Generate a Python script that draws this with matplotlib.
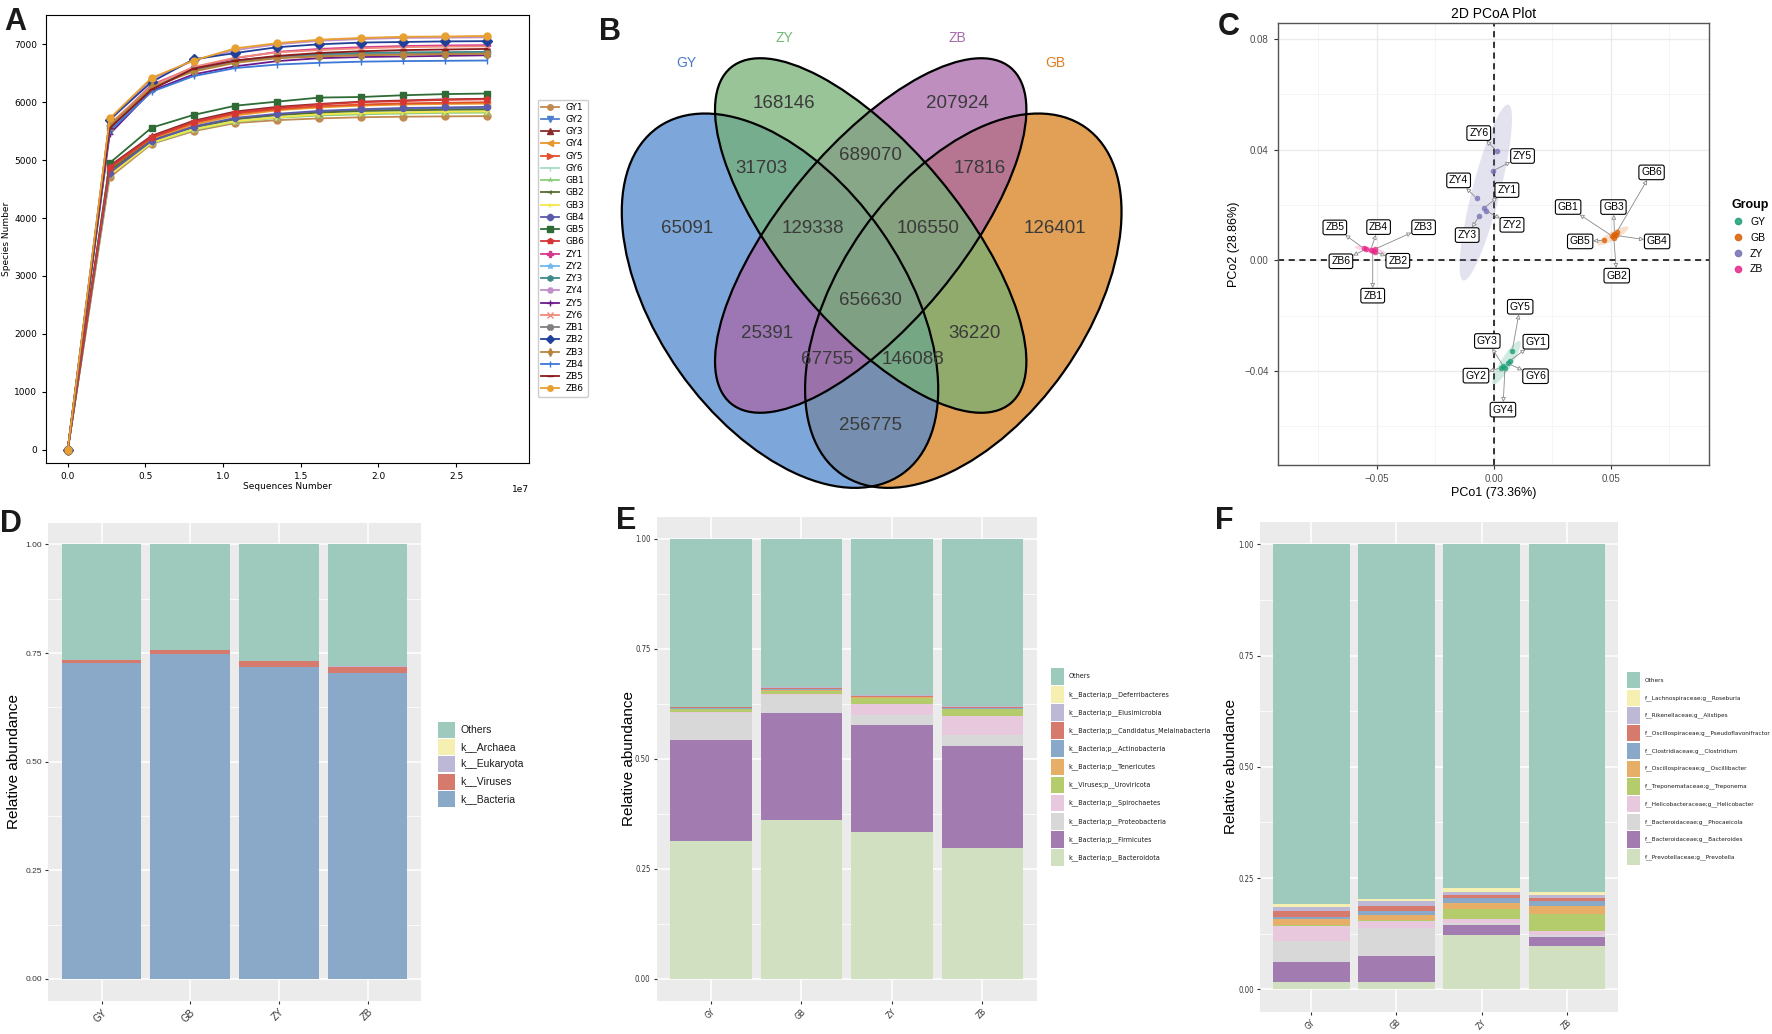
import os
import numpy as np
import matplotlib
matplotlib.use('Agg')
import matplotlib.pyplot as plt
from matplotlib.patches import Ellipse, Rectangle
from matplotlib.lines import Line2D
from matplotlib.ticker import FuncFormatter
from matplotlib.font_manager import FontProperties
from matplotlib import font_manager

# ---------------- data ----------------
# A: rarefaction curves
seq_depth = np.arange(11) * 2.7e6
samples = ['GY1', 'GY2', 'GY3', 'GY4', 'GY5', 'GY6',
           'GB1', 'GB2', 'GB3', 'GB4', 'GB5', 'GB6',
           'ZY1', 'ZY2', 'ZY3', 'ZY4', 'ZY5', 'ZY6',
           'ZB1', 'ZB2', 'ZB3', 'ZB4', 'ZB5', 'ZB6']
gy1 = [0, 4700, 5280, 5500, 5640, 5690, 5720, 5740, 5750, 5755, 5760]
gy2 = [0, 4760, 5320, 5560, 5700, 5780, 5830, 5860, 5880, 5890, 5895]
gy3 = [0, 4900, 5420, 5680, 5840, 5920, 5970, 6010, 6030, 6050, 6060]
gy4 = [0, 4800, 5350, 5610, 5770, 5860, 5910, 5940, 5960, 5970, 5975]
gy5 = [0, 4850, 5380, 5640, 5800, 5880, 5930, 5960, 5980, 5990, 6000]
gy6 = [0, 4770, 5310, 5540, 5680, 5750, 5800, 5830, 5845, 5850, 5855]
gb1 = [0, 4750, 5290, 5520, 5660, 5730, 5770, 5790, 5805, 5815, 5820]
gb2 = [0, 4820, 5340, 5570, 5710, 5780, 5820, 5850, 5860, 5870, 5875]
gb3 = [0, 4740, 5300, 5530, 5670, 5740, 5790, 5810, 5825, 5835, 5840]
gb4 = [0, 4780, 5330, 5580, 5730, 5800, 5850, 5880, 5900, 5910, 5920]
gb5 = [0, 4950, 5560, 5780, 5940, 6010, 6080, 6090, 6120, 6140, 6150]
gb6 = [0, 4880, 5400, 5660, 5820, 5900, 5960, 6000, 6020, 6040, 6050]
zy1 = [0, 5600, 6300, 6600, 6760, 6870, 6920, 6950, 6970, 6980, 6985]
zy2 = [0, 5520, 6230, 6560, 6700, 6770, 6810, 6830, 6840, 6845, 6850]
zy3 = [0, 5580, 6250, 6570, 6720, 6790, 6830, 6850, 6860, 6865, 6870]
zy4 = [0, 5680, 6400, 6720, 6900, 7000, 7060, 7090, 7110, 7115, 7120]
zy5 = [0, 5450, 6200, 6480, 6620, 6710, 6760, 6780, 6790, 6800, 6810]
zy6 = [0, 5620, 6280, 6610, 6770, 6860, 6900, 6930, 6950, 6960, 6965]
zb1 = [0, 5560, 6240, 6550, 6700, 6770, 6800, 6820, 6830, 6835, 6840]
zb2 = [0, 5700, 6350, 6740, 6850, 6950, 7000, 7030, 7040, 7050, 7055]
zb3 = [0, 5600, 6260, 6530, 6680, 6760, 6790, 6810, 6820, 6830, 6835]
zb4 = [0, 5500, 6180, 6450, 6590, 6650, 6680, 6700, 6710, 6715, 6720]
zb5 = [0, 5550, 6220, 6580, 6720, 6800, 6850, 6880, 6900, 6910, 6920]
zb6 = [0, 5720, 6420, 6720, 6930, 7020, 7080, 7110, 7130, 7135, 7145]
richness = [gy1, gy2, gy3, gy4, gy5, gy6, gb1, gb2, gb3, gb4, gb5, gb6,
            zy1, zy2, zy3, zy4, zy5, zy6, zb1, zb2, zb3, zb4, zb5, zb6]

# B: Venn
venn_sets = ['GY', 'ZY', 'ZB', 'GB']
venn_counts = [65091, 168146, 207924, 126401, 31703, 689070, 17816,
               129338, 106550, 656630, 25391, 36220, 67755, 146088, 256775]

# C: PCoA
pco1 = [0.0068, 0.0030, 0.0040, 0.0047, 0.0078, 0.0058,
        0.0505, 0.0512, 0.0515, 0.0522, 0.0471, 0.0524,
        -0.0043, -0.0034, -0.0063, -0.0074, -0.0006, 0.0012,
        -0.0518, -0.0509, -0.0510, -0.0527, -0.0556, -0.0547]
pco2 = [-0.0363, -0.0388, -0.0382, -0.0388, -0.0327, -0.0372,
        0.0088, 0.0082, 0.0095, 0.0090, 0.0072, 0.0101,
        0.0189, 0.0179, 0.0160, 0.0224, 0.0323, 0.0395,
        0.0035, 0.0031, 0.0040, 0.0037, 0.0043, 0.0040]
groups = ['GY', 'GB', 'ZY', 'ZB']

# D: kingdom
bar_groups = ['GY', 'GB', 'ZY', 'ZB']
kingdom_taxa = ['Others', 'k__Archaea', 'k__Eukaryota', 'k__Viruses', 'k__Bacteria']
k_archaea = [0.0005, 0.0005, 0.0005, 0.0005]
k_eukaryota = [0.0005, 0.0005, 0.0005, 0.0005]
k_viruses = [0.007, 0.010, 0.012, 0.014]
k_bacteria = [0.727, 0.747, 0.719, 0.705]

# E: phylum
phylum_taxa = ['Others', 'k__Bacteria;p__Deferribacteres', 'k__Bacteria;p__Elusimicrobia',
               'k__Bacteria;p__Candidatus_Melainabacteria', 'k__Bacteria;p__Actinobacteria',
               'k__Bacteria;p__Tenericutes', 'k__Viruses;p__Uroviricota',
               'k__Bacteria;p__Spirochaetes', 'k__Bacteria;p__Proteobacteria',
               'k__Bacteria;p__Firmicutes', 'k__Bacteria;p__Bacteroidota']
p_deferribacteres = [0.0005, 0.001, 0.0005, 0.001]
p_elusimicrobia = [0.001, 0.002, 0.002, 0.002]
p_candidatus = [0.002, 0.002, 0.001, 0.002]
p_actinobacteria = [0.001, 0.001, 0.001, 0.001]
p_tenericutes = [0.002, 0.003, 0.002, 0.002]
p_uroviricota = [0.006, 0.008, 0.013, 0.014]
p_spirochaetes = [0.002, 0.002, 0.025, 0.044]
p_proteobacteria = [0.062, 0.040, 0.024, 0.024]
p_firmicutes = [0.228, 0.244, 0.242, 0.234]
p_bacteroidota = [0.314, 0.360, 0.334, 0.296]

# F: genus
genus_taxa = ['Others', 'f__Lachnospiraceae;g__Roseburia', 'f__Rikenellaceae;g__Alistipes',
              'f__Oscillospiraceae;g__Pseudoflavonifractor', 'f__Clostridiaceae;g__Clostridium',
              'f__Oscillospiraceae;g__Oscillibacter', 'f__Treponemataceae;g__Treponema',
              'f__Helicobacteraceae;g__Helicobacter', 'f__Bacteroidaceae;g__Phocaeicola',
              'f__Bacteroidaceae;g__Bacteroides', 'f__Prevotellaceae;g__Prevotella']
g_roseburia = [0.006, 0.004, 0.008, 0.006]
g_alistipes = [0.009, 0.011, 0.007, 0.007]
g_pseudoflavonifractor = [0.014, 0.010, 0.007, 0.007]
g_clostridium = [0.005, 0.011, 0.010, 0.012]
g_oscillibacter = [0.013, 0.010, 0.015, 0.018]
g_treponema = [0.002, 0.002, 0.023, 0.038]
g_helicobacter = [0.034, 0.016, 0.007, 0.010]
g_phocaeicola = [0.046, 0.062, 0.006, 0.003]
g_bacteroides = [0.045, 0.059, 0.021, 0.020]
g_prevotella = [0.017, 0.017, 0.123, 0.098]

# ---------------- figure ----------------
W, H = 1772, 1034
fig = plt.figure(figsize=(W / 100, H / 100), dpi=100)

ARIAL = 'Liberation Sans'


def find_narrow():
    best = None
    for f in font_manager.fontManager.ttflist:
        nm = (f.name + ' ' + os.path.basename(f.fname)).lower()
        if any(k in nm for k in ('bold', 'italic', 'oblique', 'light', 'thin', 'black', 'medium')):
            continue
        if 'liberation sans narrow' in nm or 'liberationsansnarrow' in nm:
            return f.fname
        if best is None and ('narrow' in nm or 'condensed' in nm):
            best = f.fname
    return best


narrow_path = find_narrow()


def narrow_fp(size):
    if narrow_path:
        return FontProperties(fname=narrow_path, size=size)
    return FontProperties(family=ARIAL, size=size * 0.85)


def px_axes(l, t, r, b):
    return fig.add_axes([l / W, 1 - b / H, (r - l) / W, (b - t) / H])


# ---- A ----
a_colors = ['#c08a50', '#4f7fcf', '#8b2a2a', '#e8952a', '#e0502a', '#a8dcc4',
            '#8ccc7c', '#556b2f', '#f2e84a', '#5b5bab', '#2f6b35', '#d43535',
            '#d6388e', '#6fb8ee', '#3d8a88', '#c08ec8', '#6a1a8a', '#f08a7a',
            '#808080', '#21409a', '#b8843c', '#3b78d8', '#8b1a1a', '#e8a030']
a_markers = ['o', 'v', '^', '<', '>', '1', '2', '3', '4', '8', 's', 'p',
             'P', '*', 'h', 'H', '+', 'x', 'X', 'D', 'd', '|', '_', 'o']
axA = px_axes(46, 15, 529, 463)
for name, vals, col, mk in zip(samples, richness, a_colors, a_markers):
    axA.plot(seq_depth, vals, color=col, marker=mk, markersize=5, lw=1.3, label=name)
axA.set_xlim(-0.14e7, 2.97e7)
axA.set_ylim(-231, 7506)
axA.set_xticks([0, 0.5e7, 1.0e7, 1.5e7, 2.0e7, 2.5e7])
axA.set_yticks(range(0, 7001, 1000))
axA.tick_params(labelsize=6.5, length=3)
axA.xaxis.get_offset_text().set_fontsize(6.5)
axA.set_xlabel('Sequences Number', fontsize=6.5, labelpad=1)
axA.set_ylabel('Species Number', fontsize=6.5, labelpad=2)
axA.legend(loc='upper left', bbox_to_anchor=(533 / W, 1 - 95 / H), bbox_transform=fig.transFigure,
           fontsize=6.5, labelspacing=0.36, handlelength=2.0, borderpad=0.35,
           markerscale=0.8, framealpha=1, edgecolor='#cccccc')

# ---- B ----
axB = px_axes(620, 0, 1210, 500)
axB.set_xlim(620, 1210)
axB.set_ylim(500, 0)
axB.axis('off')
# ellipse geometry (layout): centre x, centre y, width, height, angle
venn_shapes = {'GB': (963.3, 300.7, 424, 246, -54.8), 'GY': (780.0, 300.7, 424, 246, 54.8),
               'ZB': (870.7, 235.5, 437, 178, -50.2), 'ZY': (870.7, 235.5, 437, 178, 50.2)}
venn_fill = {'GY': '#528ACF', 'ZY': '#76B076', 'ZB': '#A868A8', 'GB': '#D8801C'}
for s in ['GB', 'GY', 'ZB', 'ZY']:
    cx, cy, w, h, ang = venn_shapes[s]
    axB.add_patch(Ellipse((cx, cy), w, h, angle=ang, fc=venn_fill[s], ec='none', alpha=0.75))
for s in venn_sets:
    cx, cy, w, h, ang = venn_shapes[s]
    axB.add_patch(Ellipse((cx, cy), w, h, angle=ang, fill=False, ec='black', lw=1.6))
set_label_pos = [(686.7, 63.3), (784.3, 38.3), (957.3, 38.3), (1055.0, 63.3)]
set_label_col = ['#4a78c8', '#72b872', '#a86aae', '#e07b20']
for s, (x, y), c in zip(venn_sets, set_label_pos, set_label_col):
    axB.text(x, y, s, color=c, fontsize=10, ha='center', va='center', family=ARIAL)
region_pos = [(686.7, 228.3), (784.3, 103.3), (957.3, 103.3), (1055.0, 228.3),
              (761.7, 168.3), (870.7, 156.0), (980.0, 168.3), (813.3, 228.3),
              (928.3, 228.3), (870.7, 300.7), (767.3, 333.3), (974.3, 333.3),
              (827.3, 360.0), (913.3, 360.0), (870.7, 426.0)]
for n, (x, y) in zip(venn_counts, region_pos):
    axB.text(x, y, str(n), fontsize=13.5, color='#3a3a3a', ha='center', va='center', family=ARIAL)

# ---- C ----
grp_colors = {'GY': '#1B9E77', 'GB': '#D95F02', 'ZY': '#7570B3', 'ZB': '#E7298A'}
axC = px_axes(1277.7, 23.3, 1709, 465)
axC.set_xlim(-0.0924, 0.0919)
axC.set_ylim(-0.074, 0.0857)
axC.set_xticks([-0.05, 0, 0.05])
axC.set_yticks([-0.04, 0, 0.04, 0.08])
axC.set_xticks([-0.075, -0.025, 0.025, 0.075], minor=True)
axC.set_yticks([-0.06, -0.02, 0.02, 0.06], minor=True)
fmt = FuncFormatter(lambda v, p: ('%.2f' % v).replace('-', '\u2212'))
axC.xaxis.set_major_formatter(fmt)
axC.yaxis.set_major_formatter(fmt)
axC.grid(which='major', color='#EBEBEB', lw=1.0)
axC.grid(which='minor', color='#F4F4F4', lw=0.6)
axC.set_axisbelow(True)
axC.tick_params(which='major', length=3, color='#333333', labelsize=7, labelcolor='#4D4D4D')
axC.tick_params(which='minor', length=0)
for sp in axC.spines.values():
    sp.set_color('#555555')
    sp.set_linewidth(1.0)
for lab in axC.get_xticklabels() + axC.get_yticklabels():
    lab.set_family(ARIAL)
axC.axhline(0, color='black', ls=(0, (4, 3)), lw=1.1, zorder=1.5)
axC.axvline(0, color='black', ls=(0, (4, 3)), lw=1.1, zorder=1.5)
axC.set_title('2D PCoA Plot', fontsize=10, family=ARIAL, pad=4)
axC.set_xlabel('PCo1 (73.36%)', fontsize=9, family=ARIAL, labelpad=2)
axC.set_ylabel('PCo2 (28.86%)', fontsize=9, family=ARIAL, labelpad=3)


def conf_ellipse(x, y, level=0.95, n_pts=120):
    pts = np.column_stack([x, y])
    n = len(x)
    c = pts.mean(0)
    cov = np.cov(pts.T)
    fq = (n - 1) / 2 * ((1 - level) ** (-2 / (n - 1)) - 1)
    r = np.sqrt(2 * fq)
    vals, vecs = np.linalg.eigh(cov)
    t = np.linspace(0, 2 * np.pi, n_pts)
    circ = np.column_stack([np.cos(t), np.sin(t)])
    return c + r * circ @ (vecs * np.sqrt(np.clip(vals, 0, None))).T


pco1 = np.array(pco1)
pco2 = np.array(pco2)
sample_group = [s[:2] for s in samples]
for g in groups:
    idx = [i for i, sg in enumerate(sample_group) if sg == g]
    e = conf_ellipse(pco1[idx], pco2[idx])
    axC.fill(e[:, 0], e[:, 1], color=grp_colors[g], alpha=0.2, lw=0, zorder=2)
    axC.scatter(pco1[idx], pco2[idx], s=16, color=grp_colors[g], alpha=0.8, lw=0, zorder=3)

# repel-style label offsets (pixels)
label_off = [(26, 19), (-25, -8), (-16, 25), (-2, -42), (8, 44), (28, -13),
             (-44, 29), (3, -38), (-1, 27), (41, -6), (-24, -1), (35, 60),
             (23, 18), (26, -14), (-12, -19), (-18, 18), (30, 15), (-18, 18),
             (0, -45), (23, -9), (49, 22), (8, 23), (-29, 21), (-25, -12)]
for s, x, y, off in zip(samples, pco1, pco2, label_off):
    axC.annotate(s, (x, y), xytext=off, textcoords='offset pixels', ha='center', va='center',
                 fontsize=7.5, family=ARIAL, zorder=5,
                 bbox=dict(boxstyle='round,pad=0.22,rounding_size=0.2', fc='white', ec='black', lw=0.8),
                 arrowprops=dict(arrowstyle='<|-,head_length=0.35,head_width=0.18', color='#888888',
                                 fc='white', lw=0.6, shrinkA=0, shrinkB=2))
grp_handles = [Line2D([], [], ls='none', marker='o', markersize=4.5, color=grp_colors[g], alpha=0.85)
               for g in groups]
fig.legend(grp_handles, groups, title='Group', loc='upper left', bbox_to_anchor=(1722 / W, 1 - 190 / H),
           frameon=False, prop={'family': ARIAL, 'size': 7.5}, alignment='left',
           title_fontproperties={'family': ARIAL, 'size': 9, 'weight': 'bold'},
           handletextpad=0.6, labelspacing=0.55, handlelength=1.2)

# ---- D, E, F ----
col11 = ['#9ECABE', '#F5F0B2', '#BDB8D6', '#D67A6E', '#8AA9C8', '#E6AE66',
         '#B5CC6C', '#E8C8DC', '#D8D8D8', '#A27CB0', '#D0E0C0']
col5 = ['#9ECABE', '#F5F0B2', '#BDB8D6', '#D67A6E', '#8AA9C8']
renderer = fig.canvas.get_renderer()


def box_legend(x0, y0, step, kw, kh, labels, colors, fp, max_w=None):
    texts = []
    for i, (lab, c) in enumerate(zip(labels, colors)):
        top = y0 + i * step
        fig.add_artist(Rectangle((x0 / W, 1 - (top + kh) / H), kw / W, kh / H,
                                 transform=fig.transFigure, fc=c, ec='none'))
        texts.append(fig.text((x0 + kw + 5) / W, 1 - (top + kh / 2) / H, lab, fontproperties=fp,
                              ha='left', va='center', color='#1a1a1a'))
    if max_w:
        widest = max(t.get_window_extent(renderer).width for t in texts)
        if widest > max_w:
            for t in texts:
                t.set_fontsize(fp.get_size_in_points() * max_w / widest)


def stacked(rect, rows, colors, tick_fp_x, tick_fp_y, ylabel_x):
    ax = px_axes(*rect)
    others = 1 - np.sum(rows, axis=0)
    table = [others] + [np.array(r) for r in rows]
    xpos = np.arange(1, len(bar_groups) + 1)
    bottom = np.zeros(len(bar_groups))
    for vals, col in zip(reversed(table), reversed(colors)):
        ax.bar(xpos, vals, 0.9, bottom=bottom, color=col, lw=0, zorder=2)
        bottom += vals
    ax.set_facecolor('#EBEBEB')
    for sp in ax.spines.values():
        sp.set_visible(False)
    ax.set_xlim(0.4, len(bar_groups) + 0.6)
    ax.set_ylim(-0.05, 1.05)
    ax.set_xticks(xpos)
    ax.set_xticklabels(bar_groups, rotation=45, ha='right', va='top', rotation_mode='anchor')
    ax.set_yticks([0, 0.25, 0.5, 0.75, 1.0])
    ax.set_yticklabels(['0.00', '0.25', '0.50', '0.75', '1.00'])
    ax.set_yticks([0.125, 0.375, 0.625, 0.875], minor=True)
    ax.grid(which='major', color='white', lw=1.1, zorder=0)
    ax.grid(which='minor', axis='y', color='white', lw=0.55, zorder=0)
    ax.set_axisbelow(True)
    ax.tick_params(which='major', length=2.5, color='#333333', labelcolor='#333333', pad=2)
    ax.tick_params(which='minor', length=0)
    for lab in ax.get_xticklabels():
        lab.set_fontproperties(tick_fp_x)
    for lab in ax.get_yticklabels():
        lab.set_fontproperties(tick_fp_y)
    fig.text(ylabel_x / W, 1 - ((rect[1] + rect[3]) / 2) / H, 'Relative abundance', rotation=90,
             ha='center', va='center', fontsize=11, family=ARIAL)
    return ax


stacked((48.3, 522.7, 420.7, 1000.7),
        [k_archaea, k_eukaryota, k_viruses, k_bacteria], col5,
        FontProperties(family=ARIAL, size=7), FontProperties(family=ARIAL, size=6), 14)
box_legend(438, 722, 17.2, 17, 16, kingdom_taxa, col5, FontProperties(family=ARIAL, size=7.5))

stacked((656.7, 516.7, 1036.7, 1000.7),
        [p_deferribacteres, p_elusimicrobia, p_candidatus, p_actinobacteria, p_tenericutes,
         p_uroviricota, p_spirochaetes, p_proteobacteria, p_firmicutes, p_bacteroidota], col11,
        narrow_fp(6), narrow_fp(5.6), 629)
box_legend(1051, 668, 18.1, 12.5, 16.7, phylum_taxa, col11, narrow_fp(6.0), max_w=140)

stacked((1260, 522, 1618, 1011.6),
        [g_roseburia, g_alistipes, g_pseudoflavonifractor, g_clostridium, g_oscillibacter,
         g_treponema, g_helicobacter, g_phocaeicola, g_bacteroides, g_prevotella], col11,
        narrow_fp(6), narrow_fp(5.6), 1231)
box_legend(1627, 672, 17.7, 13, 16.3, genus_taxa, col11, narrow_fp(5.5), max_w=124)

# ---- panel letters ----
for letter, x, y in [('A', 4, 30), ('B', 599, 40), ('C', 1218, 35),
                     ('D', 0, 532), ('E', 616, 529), ('F', 1215, 529)]:
    fig.text(x / W, 1 - y / H, letter, fontsize=22, fontweight='bold', family=ARIAL,
             ha='left', va='baseline', color='#1a1a1a')

fig.savefig('out.png', dpi=100)
